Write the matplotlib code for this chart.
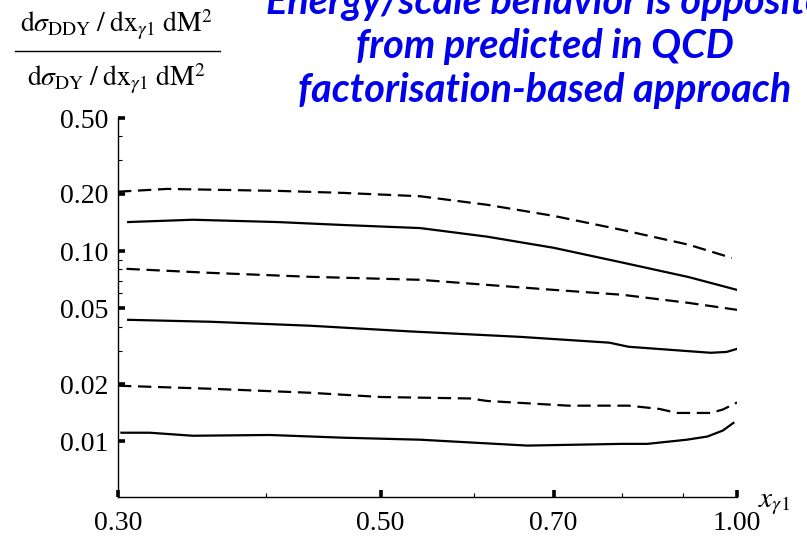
import numpy as np
import matplotlib
matplotlib.use('Agg')
import matplotlib.pyplot as plt
from matplotlib.lines import Line2D

plt.rcParams['font.family'] = 'Liberation Serif'
plt.rcParams['mathtext.fontset'] = 'stix'

# curves, top to bottom
x1 = [0.30, 0.33, 0.41, 0.465, 0.54, 0.615, 0.70, 0.80, 0.91, 0.99]
y1 = [0.205, 0.212, 0.207, 0.202, 0.194, 0.175, 0.153, 0.129, 0.108, 0.092]

x2 = [0.306, 0.347, 0.409, 0.465, 0.54, 0.615, 0.70, 0.80, 0.91, 1.0]
y2 = [0.142, 0.146, 0.142, 0.137, 0.132, 0.119, 0.104, 0.087, 0.073, 0.0625]

x3 = [0.305, 0.359, 0.436, 0.54, 0.615, 0.70, 0.80, 0.91, 1.0]
y3 = [0.0806, 0.0768, 0.0732, 0.0706, 0.0664, 0.0625, 0.0589, 0.0534, 0.0491]

x4 = [0.306, 0.359, 0.436, 0.53, 0.656, 0.78, 0.81, 0.95, 0.98, 1.0]
y4 = [0.0435, 0.0425, 0.0405, 0.0378, 0.0354, 0.033, 0.0314, 0.0292, 0.0295, 0.0306]

x5 = [0.30, 0.359, 0.436, 0.50, 0.595, 0.615, 0.72, 0.81, 0.86, 0.89, 0.95, 0.973, 1.0]
y5 = [0.0196, 0.0189, 0.018, 0.0171, 0.0168, 0.0163, 0.0154, 0.0154, 0.0148,
      0.0141, 0.0141, 0.0147, 0.016]

x6 = [0.302, 0.319, 0.347, 0.403, 0.465, 0.54, 0.665, 0.80, 0.84, 0.907, 0.944,
      0.973, 0.993]
y6 = [0.0111, 0.0111, 0.0107, 0.0108, 0.01045, 0.0102, 0.0095, 0.0097, 0.0097,
      0.0102, 0.0106, 0.0114, 0.0125]

xticks = [0.30, 0.50, 0.70, 1.00]
xticklabels = ['0.30', '0.50', '0.70', '1.00']
xminor = [0.4, 0.6, 0.8, 0.9]
yticks = [0.01, 0.02, 0.05, 0.10, 0.20, 0.50]
yticklabels = ['0.01', '0.02', '0.05', '0.10', '0.20', '0.50']
yminor = [0.03, 0.04, 0.06, 0.07, 0.08, 0.09, 0.3, 0.4]

title_lines = ['Energy/scale behavior is opposite',
               'from predicted in QCD',
               'factorisation-based approach']

fig = plt.figure(figsize=(8.07, 5.41), dpi=100)
ax = fig.add_axes([118/807, 1 - 497/541, 619/807, 379/541])

ax.set_xscale('log')
ax.set_yscale('log')
ax.set_xlim(0.30, 1.0)
ax.set_ylim(0.0051, 0.50)

dash = dict(color='black', lw=1.6, dashes=(6, 3))
solid = dict(color='black', lw=1.6)
ax.plot(x1, y1, **dash)
ax.plot(x2, y2, **solid)
ax.plot(x3, y3, **dash)
ax.plot(x4, y4, **solid)
ax.plot(x5, y5, **dash)
ax.plot(x6, y6, **solid)

for s in ['top', 'right']:
    ax.spines[s].set_visible(False)
for s in ['left', 'bottom']:
    ax.spines[s].set_linewidth(1.0)

ax.set_xticks(xticks, xticklabels)
ax.set_xticks(xminor, minor=True)
ax.set_yticks(yticks, yticklabels)
ax.set_yticks(yminor, minor=True)
ax.xaxis.set_minor_formatter(plt.NullFormatter())
ax.yaxis.set_minor_formatter(plt.NullFormatter())
ax.tick_params(which='major', direction='in', length=5, width=2.6, labelsize=20, pad=7)
ax.tick_params(axis='x', which='major', pad=10)
ax.tick_params(which='minor', direction='in', length=3, width=0.8)

# x axis label at the right end
fig.text(774/807, 1 - 504/541, r'$x_{\gamma 1}$', fontsize=21, ha='center', va='center')

# y label as a fraction
fig.text(116/807, 1 - 25/541,
         r'$\mathrm{d}\sigma_{\mathrm{DDY}}\;/\;\mathrm{dx}_{\gamma 1}\;\mathrm{dM}^{2}$',
         fontsize=20, ha='center', va='center')
fig.text(116/807, 1 - 79/541,
         r'$\mathrm{d}\sigma_{\mathrm{DY}}\;/\;\mathrm{dx}_{\gamma 1}\;\mathrm{dM}^{2}$',
         fontsize=20, ha='center', va='center')
fig.add_artist(Line2D([15/807, 220/807], [1 - 51/541, 1 - 51/541], color='black', lw=1.0))

for i, line in enumerate(title_lines):
    fig.text(545/807, 1 - (14 + 44*i)/541, line, fontsize=28.5, color='#0000EE',
             family='Lato', weight='bold', style='italic',
             ha='center', va='baseline')

fig.savefig('out.png', dpi=100)
